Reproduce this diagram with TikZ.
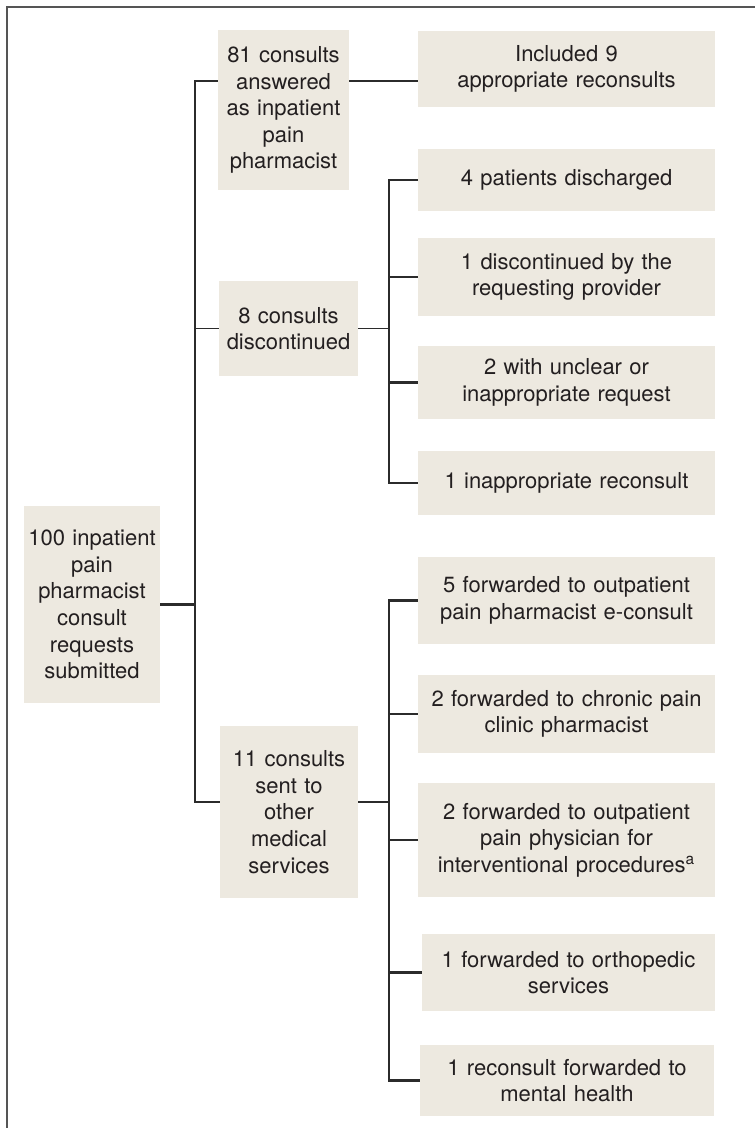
\documentclass[tikz,border=0pt]{standalone}
\usepackage{fontspec}
\setmainfont{TeX Gyre Heros}
\definecolor{boxfill}{HTML}{EDE9E0}
\definecolor{ink}{HTML}{231F20}
\definecolor{rule}{HTML}{2B2B2B}
\definecolor{frame}{HTML}{555555}
\tikzstyle{stage} = [rectangle, fill=boxfill, text=ink, inner sep=0pt, align=center, font=\fontsize{11}{13.3}\selectfont]
\tikzstyle{leaf} = [stage, text width=148.5pt]
\tikzstyle{trunk} = [draw=rule, line width=1.1pt]
\tikzstyle{feed} = [draw=rule, line width=0.7pt]
\newcommand{\rx}{566.5}

\begin{document}
\begin{tikzpicture}[x=0.5pt, y=-0.5pt]%
			\useasboundingbox (0,0) rectangle (755,1128);%
			\draw[frame, line width=1pt] (7,1128) -- (7,7) -- (755,7);%
			% first column
			\node [stage, text width=68pt, minimum height=98.5pt] (root) at (92,604.5) {100 inpatient\\pain\\pharmacist\\consult\\requests\\submitted};%
			% second column
			\node [stage, text width=65.5pt, minimum height=80pt] (ans) at (283.5,110) {81 consults\\answered\\as inpatient\\pain\\pharmacist};%
			\node [stage, text width=69.5pt, minimum height=47.5pt] (disc) at (288.5,328.5) {8 consults\\discontinued};%
			\node [stage, text width=69pt, minimum height=86pt] (sent) at (289,812) {11 consults\\sent to\\other\\medical\\services};%
			% third column
			\node [leaf, minimum height=38pt] (inc) at (\rx,69) {Included 9\\appropriate reconsults};%
			\node [leaf, minimum height=31pt] (dis1) at (\rx,180) {4 patients discharged};%
			\node [leaf, minimum height=39pt] (dis2) at (\rx,277) {1 discontinued by the\\requesting provider};%
			\node [leaf, minimum height=36.5pt] (dis3) at (\rx,382.5) {2 with unclear or\\inappropriate request};%
			\node [leaf, minimum height=32pt] (dis4) at (\rx,483) {1 inappropriate reconsult};%
			\node [leaf, minimum height=43.5pt] (fw1) at (\rx,600.5) {5 forwarded to outpatient\\pain pharmacist e-consult};%
			\node [leaf, minimum height=39pt] (fw2) at (\rx,714) {2 forwarded to chronic pain\\clinic pharmacist};%
			\node [leaf, minimum height=57pt] (fw3) at (\rx,840) {2 forwarded to outpatient\\pain physician for\\interventional procedures\textsuperscript{a}};%
			\node [leaf, text width=146.5pt, minimum height=38.5pt] (fw4) at (568.5,972.5) {1 forwarded to orthopedic\\services};%
			\node [leaf, text width=147pt, minimum height=35.5pt] (fw5) at (567,1080.5) {1 reconsult forwarded to\\mental health};%
			% connectors
			\coordinate (tA) at (195,81);%
			\coordinate (tC) at (195,802);%
			\coordinate (sA) at (389,327);%
			\coordinate (sB) at (389,802);%
			\draw[trunk] (tA -| ans.west) -- (tA) -- (tC) -- (tC -| sent.west);%
			\draw[trunk] (root.east) -- (root.east -| tA);%
			\draw[feed] (disc.west) -- (disc.west -| tA);%
			\draw[feed] (ans.east |- tA) -- (tA -| inc.west);%
			\draw[feed] (disc.east) -- (disc.east -| sA);%
			\draw[feed] (sent.east |- sB) -- (sB);%
			\draw[trunk] (dis1.west) -- (dis1.west -| sA) -- (dis4.west -| sA) -- (dis4.west);%
			\draw[trunk] (dis2.west -| sA) -- (dis2.west);%
			\draw[trunk] (dis3.west -| sA) -- (dis3.west);%
			\draw[trunk] (fw1.west) -- (fw1.west -| sB) -- (fw5.west -| sB) -- (fw5.west);%
			\draw[trunk] (fw2.west -| sB) -- (fw2.west);%
			\draw[trunk] (fw3.west -| sB) -- (fw3.west);%
			\draw[trunk] (fw4.west -| sB) -- (fw4.west);%
		\end{tikzpicture}
\end{document}
